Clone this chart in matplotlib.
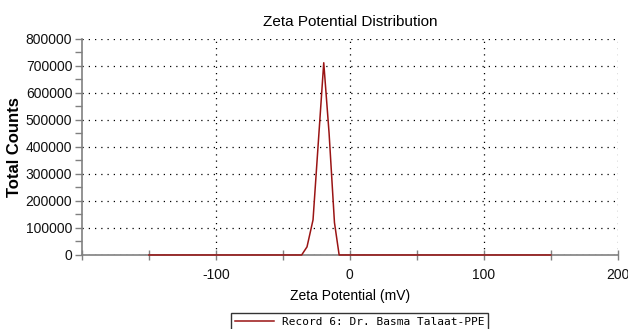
import matplotlib
matplotlib.use("Agg")
import matplotlib.pyplot as plt
from matplotlib.ticker import MultipleLocator

plt.rcParams["font.family"] = ["Liberation Sans", "DejaVu Sans"]

# zeta potential distribution
zeta_mv = [-150, -40, -36, -32, -27.5, -19.5, -15.5, -11.5, -8, 150]
counts = [0, 0, 0, 30000, 130000, 712000, 450000, 120000, 0, 0]
record_label = "Record 6: Dr. Basma Talaat-PPE"

fig = plt.figure(figsize=(6.28, 3.29), dpi=100)
ax = fig.add_axes([0.1306, 0.225, 0.853, 0.6565])

ax.plot(zeta_mv, counts, color="#9a1414", lw=1.1, label=record_label, zorder=5, clip_on=False)

ax.set_xlim(-200, 200)
ax.set_ylim(0, 800000)
ax.xaxis.set_major_locator(MultipleLocator(100))
ax.xaxis.set_minor_locator(MultipleLocator(50))
ax.yaxis.set_major_locator(MultipleLocator(100000))
ax.yaxis.set_minor_locator(MultipleLocator(50000))
ax.set_xticks([-100, 0, 100, 200])
ax.set_xticklabels(["-100", "0", "100", "200"])

ax.grid(True, which="major", color="black", linestyle=(0, (1, 4)), lw=0.9)
for s in ["top", "right"]:
    ax.spines[s].set_visible(False)
for s in ["left", "bottom"]:
    ax.spines[s].set_color("#808080")
    ax.spines[s].set_linewidth(1.2)
ax.tick_params(axis="both", which="both", colors="#808080", width=1.0, labelcolor="#111111", labelsize=10)
ax.tick_params(axis="x", which="both", direction="inout", length=7, pad=6)
ax.tick_params(axis="y", which="both", direction="out", length=5, pad=2)

ax.set_title("Zeta Potential Distribution", fontsize=11, pad=9)
ax.set_xlabel("Zeta Potential (mV)", fontsize=10, labelpad=5)
ax.set_ylabel("Total Counts", fontsize=12, fontweight="bold", labelpad=3)

fig.legend(loc="upper center", bbox_to_anchor=(0.573, 0.065), frameon=True, fancybox=False,
           edgecolor="black", prop={"family": "DejaVu Sans Mono", "size": 8}, handlelength=3.5,
           borderpad=0.3)

fig.savefig("out.png", dpi=100)
